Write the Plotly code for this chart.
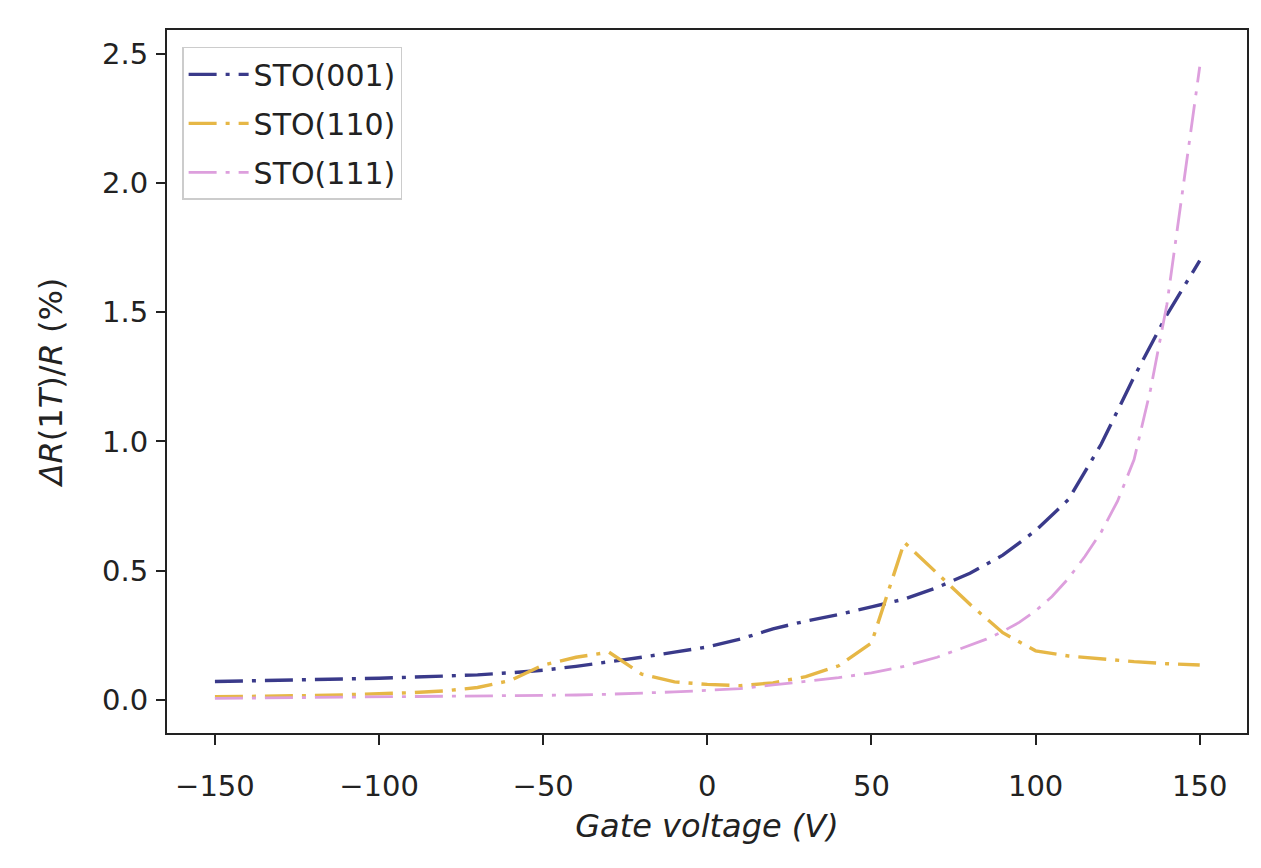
import plotly.graph_objects as go

# Gate voltage (V)
x_001 = [-150, -140, -130, -120, -110, -100, -90, -80, -70, -60, -50, -40, -30, -20, -10,
         0, 10, 20, 30, 40, 50, 60, 70, 80, 90, 100, 110, 120, 130, 140, 150]
y_001 = [0.071, 0.073, 0.075, 0.078, 0.081, 0.084, 0.088, 0.092, 0.097, 0.105, 0.115, 0.13,
         0.146, 0.165, 0.185, 0.205, 0.235, 0.275, 0.305, 0.33, 0.36, 0.39, 0.435, 0.49,
         0.56, 0.655, 0.775, 0.99, 1.25, 1.49, 1.70]

x_110 = [-150, -140, -130, -120, -110, -100, -90, -80, -70, -60, -50, -40, -30, -20, -10,
         0, 10, 20, 30, 40, 50, 60, 70, 80, 90, 100, 110, 120, 130, 140, 150]
y_110 = [0.012, 0.013, 0.015, 0.017, 0.02, 0.023, 0.028, 0.035, 0.048, 0.075, 0.135, 0.165,
         0.185, 0.10, 0.07, 0.06, 0.055, 0.066, 0.09, 0.132, 0.22, 0.61, 0.49, 0.37, 0.26,
         0.19, 0.17, 0.158, 0.148, 0.14, 0.135]

x_111 = [-150, -140, -130, -120, -110, -100, -90, -80, -70, -60, -50, -40, -30, -20, -10,
         0, 10, 20, 30, 40, 50, 60, 70, 80, 85, 90, 95, 100, 105, 110, 115, 120, 125, 130,
         135, 140, 150]
y_111 = [0.006, 0.007, 0.008, 0.009, 0.010, 0.011, 0.012, 0.013, 0.014, 0.015, 0.017, 0.019,
         0.022, 0.026, 0.031, 0.037, 0.044, 0.058, 0.072, 0.086, 0.105, 0.13, 0.165, 0.21,
         0.235, 0.265, 0.30, 0.345, 0.40, 0.47, 0.555, 0.65, 0.77, 0.93, 1.2, 1.53, 2.45]

series_names = ["STO(001)", "STO(110)", "STO(111)"]
series_colors = ["#3a3a8a", "#e6b746", "#dd9fdd"]

x_ticks = [-150, -100, -50, 0, 50, 100, 150]
y_ticks = [0.0, 0.5, 1.0, 1.5, 2.0, 2.5]

fig = go.Figure()
for i, (xs, ys, w) in enumerate([(x_001, y_001, 3.4), (x_110, y_110, 3.4), (x_111, y_111, 2.8)]):
    fig.add_trace(go.Scatter(
        x=xs, y=ys, mode="lines", name=series_names[i],
        legendgroup=series_names[i],
        line=dict(color=series_colors[i], width=w, dash="28px,9px,4px,9px"),
    ))

font_family = "DejaVu Sans"
fig.update_layout(
    width=1261, height=868,
    margin=dict(l=167, r=14, t=30, b=135),
    paper_bgcolor="white", plot_bgcolor="white",
    font=dict(family=font_family, color="#222222", size=29),
    showlegend=True,
    legend=dict(
        x=0.014, y=0.976, xanchor="left", yanchor="top",
        bgcolor="rgba(255,255,255,0.8)", bordercolor="#cccccc", borderwidth=1.5,
        font=dict(size=30, family=font_family, color="#222222"),
        tracegroupgap=7, itemwidth=60,
    ),
    xaxis=dict(
        range=[-164.6, 164.4], tickmode="array", tickvals=x_ticks,
        ticktext=["\u2212150", "\u2212100", "\u221250", "0", "50", "100", "150"],
        showgrid=False, zeroline=False,
        showline=True, linecolor="#222222", linewidth=2, mirror=True,
        ticks="outside", ticklen=10, tickwidth=1.8, tickcolor="#222222",
        tickfont=dict(size=29), ticklabelstandoff=16,
        title=dict(text="<i>Gate voltage (V)</i>", font=dict(size=32), standoff=13),
    ),
    yaxis=dict(
        range=[-0.128, 2.592], tickmode="array", tickvals=y_ticks,
        ticktext=["0.0", "0.5", "1.0", "1.5", "2.0", "2.5"],
        showgrid=False, zeroline=False,
        showline=True, linecolor="#222222", linewidth=2, mirror=True,
        ticks="outside", ticklen=9, tickwidth=1.8, tickcolor="#222222",
        tickfont=dict(size=29), ticklabelstandoff=2,
        title=dict(text="<i>\u0394R</i>(1<i>T</i>)/<i>R</i> (%)", font=dict(size=32), standoff=30),
    ),
)

fig.write_html("out.html", config={"displayModeBar": False},
               post_script="document.body.style.margin='0px';")
